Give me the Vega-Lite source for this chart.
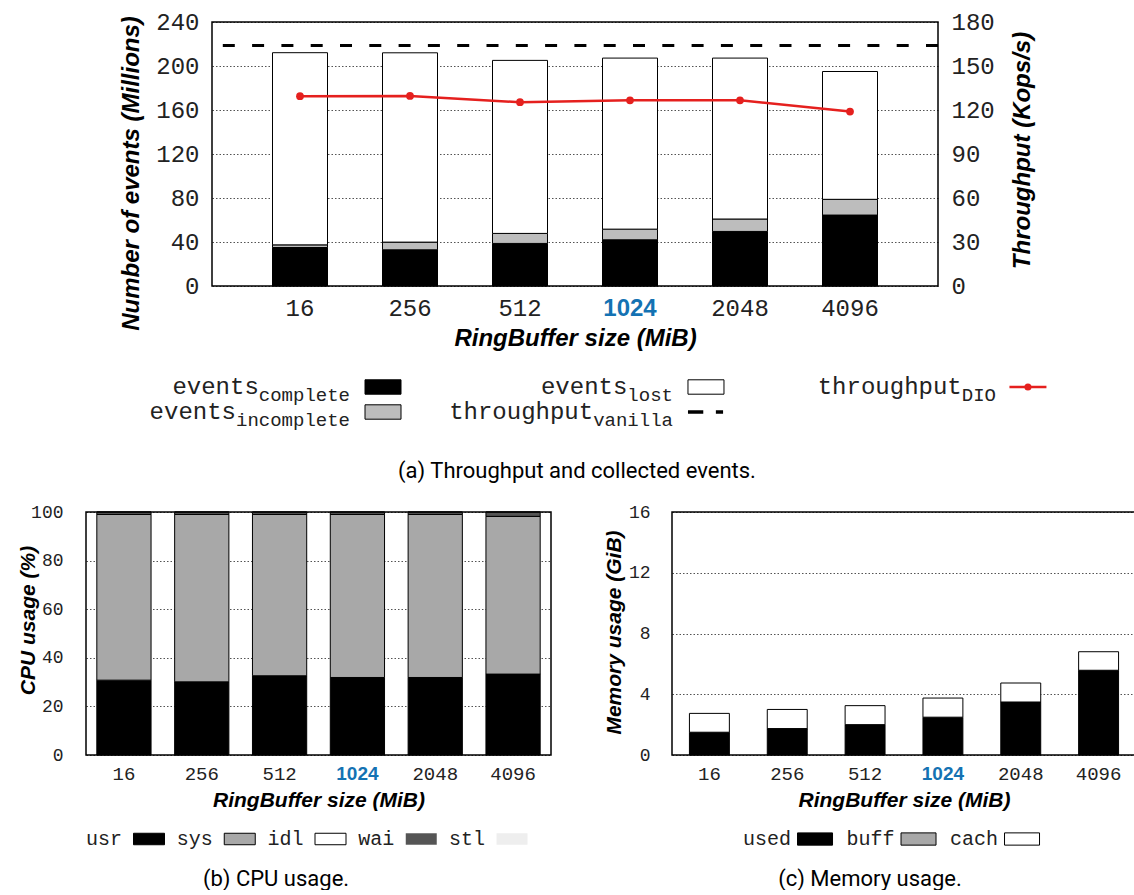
{
  "$schema": "https://vega.github.io/schema/vega-lite/v6.json",
  "padding": {"left": 16, "top": 9, "right": 0, "bottom": 0},
  "datasets": {
    "events": [
      {"size": "16", "cat": "complete", "value": 35.0},
      {"size": "16", "cat": "incomplete", "value": 2.4},
      {"size": "16", "cat": "lost", "value": 174.7},
      {"size": "256", "cat": "complete", "value": 32.9},
      {"size": "256", "cat": "incomplete", "value": 7.0},
      {"size": "256", "cat": "lost", "value": 172.1},
      {"size": "512", "cat": "complete", "value": 38.7},
      {"size": "512", "cat": "incomplete", "value": 9.1},
      {"size": "512", "cat": "lost", "value": 157.3},
      {"size": "1024", "cat": "complete", "value": 42.0},
      {"size": "1024", "cat": "incomplete", "value": 9.7},
      {"size": "1024", "cat": "lost", "value": 155.5},
      {"size": "2048", "cat": "complete", "value": 49.6},
      {"size": "2048", "cat": "incomplete", "value": 11.3},
      {"size": "2048", "cat": "lost", "value": 146.3},
      {"size": "4096", "cat": "complete", "value": 64.5},
      {"size": "4096", "cat": "incomplete", "value": 14.3},
      {"size": "4096", "cat": "lost", "value": 116.2}
    ],
    "throughput": [
      {"size": "16", "dio": 129.4},
      {"size": "256", "dio": 129.6},
      {"size": "512", "dio": 125.3},
      {"size": "1024", "dio": 126.6},
      {"size": "2048", "dio": 126.6},
      {"size": "4096", "dio": 118.9}
    ],
    "vanilla": [{"vanilla": 164}],
    "cpu": [
      {"size": "16", "metric": "usr", "value": 30.8},
      {"size": "16", "metric": "sys", "value": 68.2},
      {"size": "16", "metric": "wai", "value": 0.9},
      {"size": "16", "metric": "stl", "value": 0.1},
      {"size": "256", "metric": "usr", "value": 30.1},
      {"size": "256", "metric": "sys", "value": 68.9},
      {"size": "256", "metric": "wai", "value": 0.9},
      {"size": "256", "metric": "stl", "value": 0.1},
      {"size": "512", "metric": "usr", "value": 32.6},
      {"size": "512", "metric": "sys", "value": 66.4},
      {"size": "512", "metric": "wai", "value": 0.9},
      {"size": "512", "metric": "stl", "value": 0.1},
      {"size": "1024", "metric": "usr", "value": 31.9},
      {"size": "1024", "metric": "sys", "value": 67.1},
      {"size": "1024", "metric": "wai", "value": 0.9},
      {"size": "1024", "metric": "stl", "value": 0.1},
      {"size": "2048", "metric": "usr", "value": 31.9},
      {"size": "2048", "metric": "sys", "value": 67.1},
      {"size": "2048", "metric": "wai", "value": 0.9},
      {"size": "2048", "metric": "stl", "value": 0.1},
      {"size": "4096", "metric": "usr", "value": 33.3},
      {"size": "4096", "metric": "sys", "value": 64.9},
      {"size": "4096", "metric": "wai", "value": 1.7},
      {"size": "4096", "metric": "stl", "value": 0.1}
    ],
    "mem": [
      {"size": "16", "kind": "used", "value": 1.47},
      {"size": "16", "kind": "buff", "value": 0.03},
      {"size": "16", "kind": "cach", "value": 1.24},
      {"size": "256", "kind": "used", "value": 1.71},
      {"size": "256", "kind": "buff", "value": 0.03},
      {"size": "256", "kind": "cach", "value": 1.26},
      {"size": "512", "kind": "used", "value": 1.97},
      {"size": "512", "kind": "buff", "value": 0.03},
      {"size": "512", "kind": "cach", "value": 1.25},
      {"size": "1024", "kind": "used", "value": 2.46},
      {"size": "1024", "kind": "buff", "value": 0.03},
      {"size": "1024", "kind": "cach", "value": 1.26},
      {"size": "2048", "kind": "used", "value": 3.46},
      {"size": "2048", "kind": "buff", "value": 0.03},
      {"size": "2048", "kind": "cach", "value": 1.25},
      {"size": "4096", "kind": "used", "value": 5.55},
      {"size": "4096", "kind": "buff", "value": 0.03},
      {"size": "4096", "kind": "cach", "value": 1.22}
    ],
    "legA": [
      {"main": "events", "series": "complete", "row": "1", "col": "1", "kind": "box"},
      {"main": "events", "series": "incomplete", "row": "2", "col": "1", "kind": "box"},
      {"main": "events", "series": "lost", "row": "1", "col": "2", "kind": "box"},
      {"main": "throughput", "series": "vanilla", "row": "2", "col": "2", "kind": "dash"},
      {"main": "throughput", "series": "DIO", "row": "1", "col": "3", "kind": "line"}
    ],
    "legB": [
      {"item": "usr"}, {"item": "sys"}, {"item": "idl"}, {"item": "wai"}, {"item": "stl"}
    ],
    "legC": [
      {"item": "used"}, {"item": "buff"}, {"item": "cach"}
    ]
  },
  "vconcat": [
    {
      "hconcat": [
        {
          "width": 32,
          "height": 10,
          "view": {"stroke": null},
          "data": {"values": []},
          "mark": "point"
        },
        {
          "width": 726,
          "height": 264,
          "layer": [
            {
              "data": {"name": "events"},
              "transform": [{"calculate": "indexof(['complete','incomplete','lost'], datum.cat)", "as": "ord"}],
              "mark": {"type": "bar", "stroke": "black", "strokeWidth": 1},
              "encoding": {
                "x": {
                  "field": "size", "type": "ordinal",
                  "sort": ["16", "256", "512", "1024", "2048", "4096"],
                  "scale": {"paddingInner": 0.5, "paddingOuter": 0.55},
                  "axis": {
                    "title": "RingBuffer size (MiB)", "titleFontSize": 24, "titlePadding": 6,
                    "labelFontSize": 24, "labelPadding": 10, "labelAngle": 0, "grid": false,
                    "labelColor": {"condition": {"test": "datum.value === '1024'", "value": "#1472b3"}, "value": "#222"},
                    "labelFont": {"condition": {"test": "datum.value === '1024'", "value": "Liberation Sans"}, "value": "Liberation Mono"},
                    "labelFontWeight": {"condition": {"test": "datum.value === '1024'", "value": "bold"}, "value": "normal"}
                  }
                },
                "y": {
                  "field": "value", "type": "quantitative", "stack": "zero",
                  "scale": {"domain": [0, 240], "nice": false},
                  "axis": {
                    "values": [0, 40, 80, 120, 160, 200, 240], "grid": true,
                    "labelFontSize": 24, "labelPadding": 13, "labelFlush": false, "labelOverlap": false,
                    "title": "Number of events (Millions)", "titleFontSize": 24,
                    "titleX": -81, "titleY": 151, "titleAngle": 270, "titleBaseline": "middle", "titleAlign": "center"
                  }
                },
                "order": {"field": "ord", "type": "quantitative"},
                "color": {
                  "field": "cat", "type": "nominal",
                  "scale": {"domain": ["complete", "incomplete", "lost"], "range": ["#000000", "#bdbdbd", "#ffffff"]},
                  "legend": null
                }
              }
            },
            {
              "layer": [
                {
                  "data": {"name": "vanilla"},
                  "mark": {"type": "rule", "color": "black", "strokeWidth": 3, "strokeDash": [12, 17.3]},
                  "encoding": {
                    "y": {
                      "field": "vanilla", "type": "quantitative",
                      "scale": {"domain": [0, 180], "nice": false},
                      "axis": {
                        "orient": "right", "values": [0, 30, 60, 90, 120, 150, 180], "grid": false,
                        "labelFontSize": 24, "labelPadding": 13, "labelFlush": false, "labelOverlap": false,
                        "title": "Throughput (Kops/s)", "titleFontSize": 24,
                        "titleX": 84, "titleY": 128, "titleAngle": 270, "titleBaseline": "middle", "titleAlign": "center"
                      }
                    }
                  }
                },
                {
                  "data": {"name": "throughput"},
                  "mark": {"type": "line", "color": "#e5201e", "strokeWidth": 2.5},
                  "encoding": {
                    "x": {
                      "field": "size", "type": "ordinal",
                      "sort": ["16", "256", "512", "1024", "2048", "4096"],
                      "axis": {
                        "title": "RingBuffer size (MiB)", "titleFontSize": 24, "titlePadding": 6,
                        "labelFontSize": 24, "labelPadding": 10, "labelAngle": 0, "grid": false,
                        "labelColor": {"condition": {"test": "datum.value === '1024'", "value": "#1472b3"}, "value": "#222"},
                        "labelFont": {"condition": {"test": "datum.value === '1024'", "value": "Liberation Sans"}, "value": "Liberation Mono"},
                        "labelFontWeight": {"condition": {"test": "datum.value === '1024'", "value": "bold"}, "value": "normal"}
                      }
                    },
                    "y": {
                      "field": "dio", "type": "quantitative",
                      "scale": {"domain": [0, 180], "nice": false},
                      "axis": {
                        "orient": "right", "values": [0, 30, 60, 90, 120, 150, 180], "grid": false,
                        "labelFontSize": 24, "labelPadding": 13, "labelFlush": false, "labelOverlap": false,
                        "title": "Throughput (Kops/s)", "titleFontSize": 24,
                        "titleX": 84, "titleY": 128, "titleAngle": 270, "titleBaseline": "middle", "titleAlign": "center"
                      }
                    }
                  }
                },
                {
                  "data": {"name": "throughput"},
                  "mark": {"type": "point", "filled": true, "color": "#e5201e", "size": 60, "opacity": 1},
                  "encoding": {
                    "x": {
                      "field": "size", "type": "ordinal",
                      "sort": ["16", "256", "512", "1024", "2048", "4096"],
                      "axis": {
                        "title": "RingBuffer size (MiB)", "titleFontSize": 24, "titlePadding": 6,
                        "labelFontSize": 24, "labelPadding": 10, "labelAngle": 0, "grid": false,
                        "labelColor": {"condition": {"test": "datum.value === '1024'", "value": "#1472b3"}, "value": "#222"},
                        "labelFont": {"condition": {"test": "datum.value === '1024'", "value": "Liberation Sans"}, "value": "Liberation Mono"},
                        "labelFontWeight": {"condition": {"test": "datum.value === '1024'", "value": "bold"}, "value": "normal"}
                      }
                    },
                    "y": {
                      "field": "dio", "type": "quantitative",
                      "scale": {"domain": [0, 180], "nice": false},
                      "axis": {
                        "orient": "right", "values": [0, 30, 60, 90, 120, 150, 180], "grid": false,
                        "labelFontSize": 24, "labelPadding": 13, "labelFlush": false, "labelOverlap": false,
                        "title": "Throughput (Kops/s)", "titleFontSize": 24,
                        "titleX": 84, "titleY": 128, "titleAngle": 270, "titleBaseline": "middle", "titleAlign": "center"
                      }
                    }
                  }
                }
              ]
            }
          ],
          "resolve": {"scale": {"y": "independent"}}
        }
      ],
      "spacing": 0
    },
    {
      "width": 1049,
      "height": 57,
      "view": {"stroke": null},
      "data": {"name": "legA"},
      "encoding": {
        "x": {"field": "col", "type": "ordinal", "scale": {"type": "point", "padding": 0.624, "align": 0.655}, "axis": null},
        "y": {"field": "row", "type": "ordinal", "scale": {"type": "point", "padding": 0.64}, "axis": null}
      },
      "layer": [
        {
          "mark": {"type": "text", "align": "right", "baseline": "middle", "font": "Liberation Mono", "fontSize": 24, "color": "#222", "dx": {"expr": "-length(datum.series) * 11.4"}},
          "encoding": {"text": {"field": "main"}}
        },
        {
          "mark": {"type": "text", "align": "right", "baseline": "middle", "font": "Liberation Mono", "fontSize": 19, "color": "#222", "dy": 8},
          "encoding": {"text": {"field": "series"}}
        },
        {
          "transform": [{"filter": "datum.kind === 'box'"}],
          "mark": {"type": "point", "shape": "M-1,-0.4H1V0.4H-1Z", "size": 1296, "filled": true, "opacity": 1, "stroke": "black", "strokeWidth": 1, "xOffset": 33},
          "encoding": {
            "fill": {"field": "series", "type": "nominal", "scale": {"domain": ["complete", "incomplete", "lost"], "range": ["#000000", "#bdbdbd", "#ffffff"]}, "legend": null}
          }
        },
        {
          "transform": [{"filter": "datum.kind === 'dash'"}],
          "mark": {"type": "point", "shape": "M-1,0H-0.15M0.55,0H0.95", "size": 1296, "filled": false, "opacity": 1, "stroke": "black", "strokeWidth": 3.5, "xOffset": 33}
        },
        {
          "transform": [{"filter": "datum.kind === 'line'"}],
          "mark": {"type": "point", "shape": "M-1,0H1", "size": 1369, "filled": false, "opacity": 1, "stroke": "#e5201e", "strokeWidth": 2.5, "xOffset": 32}
        },
        {
          "transform": [{"filter": "datum.kind === 'line'"}],
          "mark": {"type": "point", "shape": "circle", "size": 50, "filled": true, "opacity": 1, "color": "#e5201e", "xOffset": 32}
        }
      ],
      "title": {"text": "(a) Throughput and collected events.", "orient": "bottom", "anchor": "middle", "frame": "group", "dx": -33.5, "font": "Roboto", "fontSize": 22, "fontWeight": "normal", "color": "black", "offset": 31}
    },
    {
      "hconcat": [
        {
          "vconcat": [
            {
              "width": 465,
              "height": 243,
              "data": {"name": "cpu"},
              "transform": [{"calculate": "indexof(['usr','sys','idl','wai','stl'], datum.metric)", "as": "ord"}],
              "mark": {"type": "bar", "stroke": "black", "strokeWidth": 1},
              "encoding": {
                "x": {
                  "field": "size", "type": "ordinal",
                  "sort": ["16", "256", "512", "1024", "2048", "4096"],
                  "scale": {"paddingInner": 0.303, "paddingOuter": 0.139},
                  "axis": {
                    "title": "RingBuffer size (MiB)", "titleFontSize": 21, "titlePadding": 6,
                    "labelFontSize": 19, "labelPadding": 9, "labelAngle": 0, "grid": false,
                    "labelColor": {"condition": {"test": "datum.value === '1024'", "value": "#1472b3"}, "value": "#222"},
                    "labelFont": {"condition": {"test": "datum.value === '1024'", "value": "Liberation Sans"}, "value": "Liberation Mono"},
                    "labelFontWeight": {"condition": {"test": "datum.value === '1024'", "value": "bold"}, "value": "normal"}
                  }
                },
                "y": {
                  "field": "value", "type": "quantitative", "stack": "zero",
                  "scale": {"domain": [0, 100], "nice": false},
                  "axis": {
                    "values": [0, 20, 40, 60, 80, 100], "grid": true,
                    "labelFontSize": 18, "labelPadding": 23, "labelFlush": false, "labelOverlap": false,
                    "title": "CPU usage (%)", "titleFontSize": 21,
                    "titleX": -58, "titleY": 108, "titleAngle": 270, "titleBaseline": "middle", "titleAlign": "center"
                  }
                },
                "order": {"field": "ord", "type": "quantitative"},
                "color": {
                  "field": "metric", "type": "nominal",
                  "scale": {"domain": ["usr", "sys", "idl", "wai", "stl"], "range": ["#000000", "#a8a8a8", "#ffffff", "#555555", "#eeeeee"]},
                  "legend": null
                }
              }
            },
            {
              "width": 465,
              "height": 20,
              "view": {"stroke": null},
              "data": {"name": "legB"},
              "encoding": {
                "x": {"field": "item", "type": "nominal", "sort": ["usr", "sys", "idl", "wai", "stl"], "scale": {"type": "point", "padding": 0.562, "align": 0.353}, "axis": null}
              },
              "layer": [
                {
                  "mark": {"type": "text", "align": "right", "baseline": "middle", "font": "Liberation Mono", "fontSize": 20, "color": "#222"},
                  "encoding": {"text": {"field": "item"}}
                },
                {
                  "mark": {"type": "point", "shape": "M-1,-0.37H1V0.37H-1Z", "size": 961, "filled": true, "opacity": 1, "stroke": "black", "strokeWidth": 1, "xOffset": 27},
                  "encoding": {
                    "fill": {"field": "item", "type": "nominal", "scale": {"domain": ["usr", "sys", "idl", "wai", "stl"], "range": ["#000000", "#a8a8a8", "#ffffff", "#555555", "#eeeeee"]}, "legend": null},
                    "strokeOpacity": {"condition": {"test": "datum.item === 'wai' || datum.item === 'stl'", "value": 0}, "value": 1}
                  }
                }
              ],
              "title": {"text": "(b) CPU usage.", "orient": "bottom", "anchor": "middle", "frame": "group", "dx": -42.5, "font": "Roboto", "fontSize": 22, "fontWeight": "normal", "color": "black", "offset": 20}
            }
          ],
          "spacing": 18,
          "resolve": {"scale": {"color": "independent", "fill": "independent"}}
        },
        {
          "vconcat": [
            {
              "width": 464,
              "height": 243,
              "data": {"name": "mem"},
              "transform": [{"calculate": "indexof(['used','buff','cach'], datum.kind)", "as": "ord"}],
              "mark": {"type": "bar", "stroke": "black", "strokeWidth": 1},
              "encoding": {
                "x": {
                  "field": "size", "type": "ordinal",
                  "sort": ["16", "256", "512", "1024", "2048", "4096"],
                  "scale": {"paddingInner": 0.487, "paddingOuter": 0.224},
                  "axis": {
                    "title": "RingBuffer size (MiB)", "titleFontSize": 21, "titlePadding": 6,
                    "labelFontSize": 19, "labelPadding": 9, "labelAngle": 0, "grid": false,
                    "labelColor": {"condition": {"test": "datum.value === '1024'", "value": "#1472b3"}, "value": "#222"},
                    "labelFont": {"condition": {"test": "datum.value === '1024'", "value": "Liberation Sans"}, "value": "Liberation Mono"},
                    "labelFontWeight": {"condition": {"test": "datum.value === '1024'", "value": "bold"}, "value": "normal"}
                  }
                },
                "y": {
                  "field": "value", "type": "quantitative", "stack": "zero",
                  "scale": {"domain": [0, 16], "nice": false},
                  "axis": {
                    "values": [0, 4, 8, 12, 16], "grid": true,
                    "labelFontSize": 18, "labelPadding": 22, "labelFlush": false, "labelOverlap": false,
                    "title": "Memory usage (GiB)", "titleFontSize": 21,
                    "titleX": -57.5, "titleY": 120, "titleAngle": 270, "titleBaseline": "middle", "titleAlign": "center"
                  }
                },
                "order": {"field": "ord", "type": "quantitative"},
                "color": {
                  "field": "kind", "type": "nominal",
                  "scale": {"domain": ["used", "buff", "cach"], "range": ["#000000", "#a8a8a8", "#ffffff"]},
                  "legend": null
                }
              }
            },
            {
              "width": 414,
              "height": 20,
              "view": {"stroke": null},
              "data": {"name": "legC"},
              "encoding": {
                "x": {"field": "item", "type": "nominal", "sort": ["used", "buff", "cach"], "scale": {"type": "point", "padding": 1, "align": 0.575}, "axis": null}
              },
              "layer": [
                {
                  "mark": {"type": "text", "align": "right", "baseline": "middle", "font": "Liberation Mono", "fontSize": 20, "color": "#222"},
                  "encoding": {"text": {"field": "item"}}
                },
                {
                  "mark": {"type": "point", "shape": "M-1,-0.35H1V0.35H-1Z", "size": 1225, "filled": true, "opacity": 1, "stroke": "black", "strokeWidth": 1, "xOffset": 24},
                  "encoding": {
                    "fill": {"field": "item", "type": "nominal", "scale": {"domain": ["used", "buff", "cach"], "range": ["#000000", "#a8a8a8", "#ffffff"]}, "legend": null}
                  }
                }
              ],
              "title": {"text": "(c) Memory usage.", "orient": "bottom", "anchor": "middle", "frame": "group", "dx": -9, "font": "Roboto", "fontSize": 22, "fontWeight": "normal", "color": "black", "offset": 20}
            }
          ],
          "spacing": 18,
          "resolve": {"scale": {"color": "independent", "fill": "independent"}}
        }
      ],
      "spacing": 50,
      "resolve": {"scale": {"color": "independent", "fill": "independent"}}
    }
  ],
  "spacing": 20,
  "resolve": {"scale": {"color": "independent", "fill": "independent"}},
  "config": {
    "font": "Liberation Sans",
    "view": {"stroke": "black", "strokeWidth": 1.5},
    "axis": {
      "labelFont": "Liberation Mono",
      "labelColor": "#222",
      "titleFont": "Liberation Sans",
      "titleFontStyle": "italic",
      "titleFontWeight": "bold",
      "titleColor": "black",
      "domain": false,
      "ticks": false,
      "tickSize": 0,
      "gridColor": "black",
      "gridDash": [1.5, 2],
      "gridOpacity": 0.85,
      "gridWidth": 0.8
    }
  }
}
